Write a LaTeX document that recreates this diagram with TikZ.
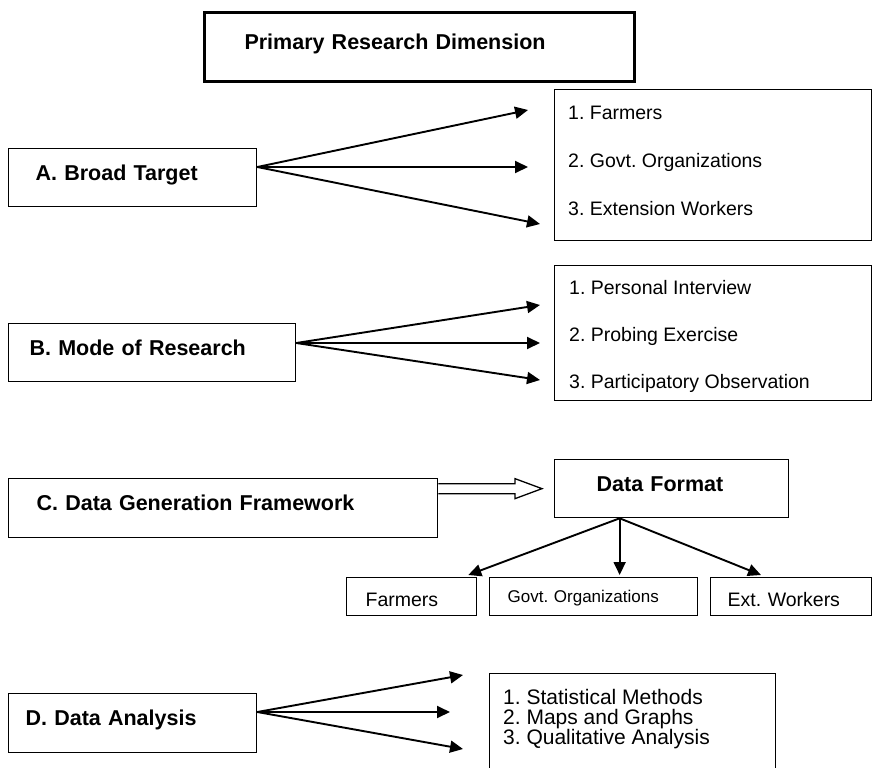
\documentclass[tikz,border=0pt]{standalone}
\usepackage{fontspec}
\setmainfont{Liberation Sans}
\frenchspacing
\usetikzlibrary{positioning,arrows.meta,calc}
\tikzset{
  headbox/.style={rectangle,draw=black,line width=1.3pt,anchor=north west,align=left,
    inner ysep=0pt,font=\bfseries\fontsize{21.5}{24}\selectfont,text height=15pt,text depth=10pt},
  listbox/.style={rectangle,draw=black,line width=1.3pt,anchor=north west,inner sep=0pt},
  catbox/.style={rectangle,draw=black,line width=1.3pt,anchor=north west,align=left,
    inner ysep=0pt,minimum height=38pt,font=\fontsize{19.5}{22}\selectfont,text height=20pt,text depth=0pt},
  itemtxt/.style={anchor=west,inner sep=0pt,font=\fontsize{19.5}{22}\selectfont,text height=14pt,text depth=4pt},
  ar/.style={-{Triangle[length=13pt,width=12pt]},line width=1.9pt,draw=black},
}

\begin{document}
\begin{tikzpicture}[x=1pt,y=-1pt]
  \useasboundingbox (0,0) rectangle (873,768);
  % title
  \node[headbox,line width=3pt,inner xsep=40pt,text width=350pt,minimum height=69pt] (prd) at (203,11) {Primary Research Dimension};
  % A
  \node[headbox,inner xsep=27pt,text width=194pt,minimum height=58pt] (tgt) at (8,148) {A. Broad Target};
  \node[listbox,minimum width=317pt,minimum height=151pt] (tgtl) at (554,89) {};
  \foreach \itm [count=\i] in {1. Farmers,2. Govt. Organizations,3. Extension Workers}
    \node[itemtxt] (tgt\i) at ($(tgtl.north west)+(14,25+48*\i-48)$) {\itm};
  \coordinate (tgto) at ($(tgt.north east)+(0,19)$);
  \coordinate (tgta) at (528,110);
  \coordinate (tgtb) at (528,167);
  \coordinate (tgtc) at (540,224);
  \foreach \h in {tgta,tgtb,tgtc} \draw[ar] (tgto)--(\h);
  % B
  \node[headbox,inner xsep=21pt,text width=245pt,minimum height=58pt] (mode) at (8,323) {B. Mode of Research};
  \node[listbox,minimum width=317pt,minimum height=135pt] (model) at (554,265) {};
  \foreach \itm [count=\i] in {1. Personal Interview,2. Probing Exercise,3. Participatory Observation}
    \node[itemtxt] (mode\i) at ($(model.north west)+(15,24+47*\i-47)$) {\itm};
  \coordinate (modeo) at ($(mode.north east)+(0,20)$);
  \coordinate (modea) at (540,305);
  \coordinate (modeb) at (540,343);
  \coordinate (modec) at (540,380);
  \foreach \h in {modea,modeb,modec} \draw[ar] (modeo)--(\h);
  % C
  \node[headbox,inner xsep=28pt,text width=373pt,minimum height=59pt] (gen) at (8,478) {C. Data Generation Framework};
  \node[headbox,inner xsep=42pt,text width=150pt,minimum height=58pt] (fmt) at (554,459) {Data Format};
  \coordinate (gens) at (gen.east |- fmt.west);
  \coordinate (gent) at ($(fmt.west)+(-12,0)$);
  \draw[line width=1.3pt,line join=miter] ($(gens)+(0,-5)$) -- ($(gent)+(-27,-5)$) -- ($(gent)+(-27,-10)$) -- (gent)
    -- ($(gent)+(-27,10)$) -- ($(gent)+(-27,5)$) -- ($(gens)+(0,5)$);
  \node[catbox,inner xsep=19pt,text width=92pt] (farm) at (346,577) {Farmers};
  \node[catbox,inner xsep=18pt,text width=172pt,font=\fontsize{17}{20}\selectfont,text height=12pt] (govt) at (489,577) {Govt. Organizations};
  \node[catbox,inner xsep=17pt,text width=127pt] (ext) at (710,577) {Ext. Workers};
  \coordinate (fmto) at ($(fmt.south)+(-52,0)$);
  \coordinate (farmt) at ($(farm.north east)+(-9,-2)$);
  \coordinate (govtt) at (fmto |- farmt);
  \coordinate (extt) at ($(ext.north west)+(51,-2)$);
  \foreach \h in {farmt,govtt,extt} \draw[ar] (fmto)--(\h);
  % D
  \node[headbox,inner xsep=17pt,text width=214pt,minimum height=59pt] (ana) at (8,693) {D. Data Analysis};
  \node[listbox,minimum width=286pt,minimum height=110pt] (anal) at (489,673) {};
  \foreach \itm [count=\i] in {1. Statistical Methods,2. Maps and Graphs,3. Qualitative Analysis}
    \node[itemtxt,font=\fontsize{21}{22}\selectfont] (ana\i) at ($(anal.north west)+(14,26+20*\i-20)$) {\itm};
  \coordinate (anao) at ($(ana.north east)+(0,19)$);
  \coordinate (anaa) at (463,675);
  \coordinate (anab) at (450,712);
  \coordinate (anac) at (463,749);
  \foreach \h in {anaa,anab,anac} \draw[ar] (anao)--(\h);
\end{tikzpicture}
\end{document}
